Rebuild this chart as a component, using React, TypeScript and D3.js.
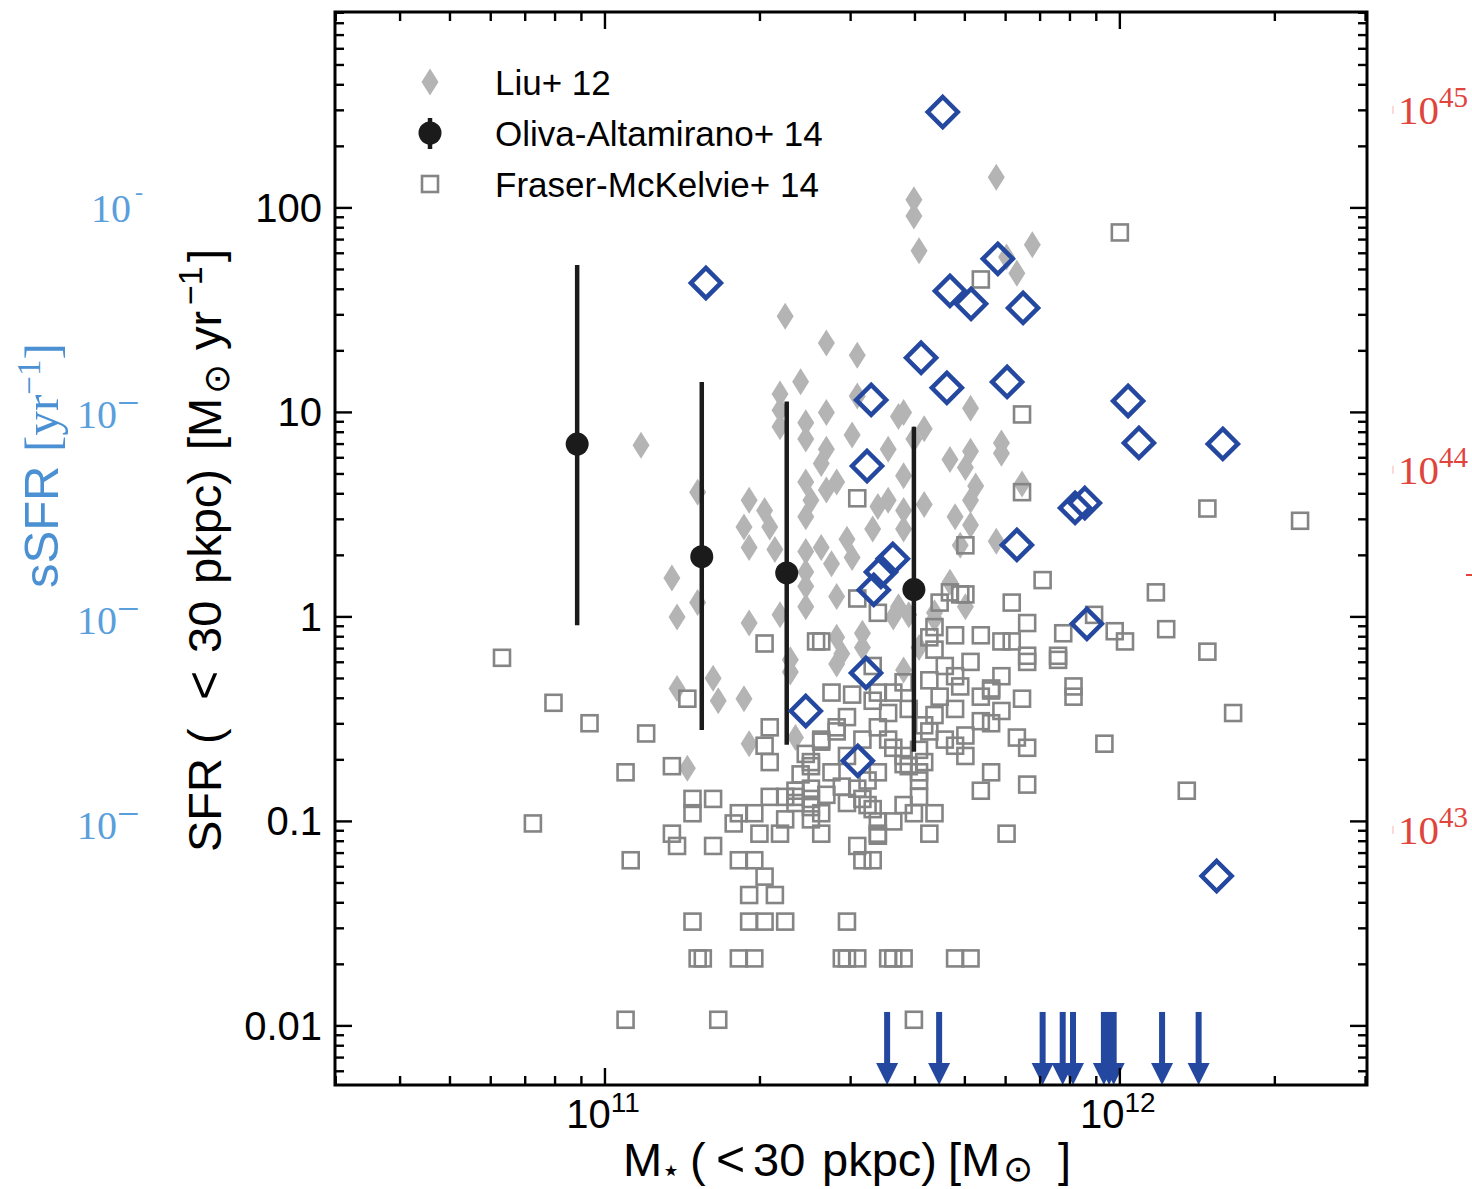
import React from "react";
import * as d3 from "d3";

// ---------- data (log10 M*/Msun, log10 SFR/(Msun/yr)) ----------
const liuPoints: [number, number][] = [
  [11.76, 2.15], [11.6, 2.04], [11.6, 1.96], [11.61, 1.79], [11.83, 1.82], [11.78, 1.76], [11.8, 1.68],
  [11.35, 1.47], [11.43, 1.34], [11.49, 1.28], [11.38, 1.15], [11.34, 1.09], [11.34, 1.01], [11.34, 0.93],
  [11.49, 1.08], [11.43, 1.0], [11.39, 0.95], [11.39, 0.87], [11.48, 0.89], [11.57, 0.98], [11.58, 1.0],
  [11.71, 1.02], [11.62, 0.92], [11.6, 0.87], [11.77, 0.85], [11.71, 0.81], [11.67, 0.77], [11.55, 0.82],
  [11.43, 0.82], [11.07, 0.84], [11.18, 0.61], [11.28, 0.57], [11.27, 0.44], [11.28, 0.34], [11.31, 0.52],
  [11.32, 0.44], [11.33, 0.33], [11.13, 0.19], [11.18, 0.07], [11.14, 0.0], [11.28, -0.03], [11.14, -0.35],
  [11.21, -0.3], [11.22, -0.41], [11.27, -0.4], [11.36, -0.27], [11.28, -0.62], [11.37, -0.59], [11.16, -0.74],
  [11.39, 0.66], [11.4, 0.57], [11.39, 0.49], [11.43, 0.62], [11.45, 0.66], [11.42, 0.75], [11.52, 0.43],
  [11.55, 0.57], [11.53, 0.54], [11.58, 0.69], [11.58, 0.52], [11.58, 0.43], [11.62, 0.55], [11.7, 0.73],
  [11.72, 0.64], [11.71, 0.57], [11.68, 0.49], [11.71, 0.45], [11.76, 0.37], [11.69, 0.35], [11.81, 0.65],
  [11.77, 0.8], [11.39, 0.32], [11.39, 0.22], [11.39, 0.15], [11.39, 0.05], [11.42, 0.34], [11.44, 0.26],
  [11.45, 0.1], [11.48, 0.29], [11.45, -0.1], [11.46, -0.18], [11.45, -0.23], [11.5, -0.08], [11.5, -0.15],
  [11.56, 0.0], [11.57, 0.05], [11.58, -0.26], [11.67, 0.17], [11.34, 0.01], [11.36, -0.21], [11.64, 0.02],
  [11.7, 0.05], [11.59, 0.01], [11.64, -0.01], [11.61, -0.15], [11.47, 0.38],
];

const fraserPoints: [number, number][] = [
  [12.0, 1.88], [11.73, 1.65], [11.81, 0.99], [11.81, 0.61], [11.49, 0.58], [12.17, 0.53], [12.35, 0.47], [11.7, 0.35],
  [11.85, 0.18], [12.07, 0.12], [11.79, 0.07], [11.82, -0.03], [11.89, -0.08], [11.95, 0.01], [11.99, -0.07], [12.01, -0.12],
  [12.09, -0.06], [12.17, -0.17], [11.88, -0.19], [11.88, -0.21], [11.82, -0.19], [11.82, -0.22], [11.91, -0.34], [11.91, -0.39],
  [12.22, -0.47], [11.97, -0.62], [12.13, -0.85], [11.82, -0.64], [11.8, -0.59], [11.75, -0.76], [11.73, -0.85], [11.82, -0.82],
  [11.78, -1.06], [11.64, -0.96], [11.6, -0.96], [11.63, -1.06], [11.68, -1.67], [11.71, -1.67], [11.58, -1.67], [11.6, -1.97],
  [11.77, -0.12], [11.79, -0.12], [11.73, -0.09], [11.68, -0.09], [11.69, 0.11], [11.7, 0.11], [11.65, 0.07], [11.81, -0.4],
  [11.77, -0.29], [11.75, -0.35], [11.77, -0.46], [11.73, -0.51], [11.7, -0.58], [11.68, -0.63], [11.7, -0.68], [11.62, -0.71],
  [11.61, -0.8], [11.58, -0.72], [11.63, -0.56], [11.64, -0.48], [11.49, 0.09], [11.53, 0.02], [11.67, 0.12], [11.31, -0.13],
  [11.41, -0.12], [11.42, -0.12], [11.16, -0.4], [11.08, -0.57], [11.44, -0.37], [11.48, -0.38], [11.32, -0.54], [11.31, -0.63],
  [11.32, -0.71], [11.52, -0.24], [11.53, -0.37], [11.58, -0.32], [10.8, -0.2], [10.9, -0.42], [10.97, -0.52], [11.04, -0.76],
  [11.13, -0.73], [10.86, -1.01], [11.05, -1.19], [11.17, -0.89], [11.21, -0.89], [11.17, -0.96], [11.13, -1.06], [11.14, -1.12],
  [11.21, -1.12], [11.26, -0.96], [11.25, -1.01], [11.29, -0.96], [11.3, -1.06], [11.34, -1.06], [11.32, -0.88], [11.35, -0.88],
  [11.37, -0.88], [11.42, -1.06], [11.26, -1.19], [11.29, -1.19], [11.31, -1.27], [11.28, -1.36], [11.33, -1.36], [11.17, -1.49],
  [11.28, -1.49], [11.31, -1.49], [11.35, -1.49], [11.47, -1.49], [11.18, -1.67], [11.19, -1.67], [11.26, -1.67], [11.29, -1.67],
  [11.46, -1.67], [11.47, -1.67], [11.49, -1.67], [11.55, -1.67], [11.56, -1.67], [11.04, -1.97], [11.22, -1.97], [11.49, -1.12],
  [11.5, -1.19], [11.52, -1.19], [11.53, -1.07], [11.53, -1.0], [11.56, -1.0], [11.53, -1.06], [11.58, -0.92], [11.71, -0.22],
  [11.75, -0.52], [11.73, -0.39], [11.69, -0.34], [11.65, -0.39], [11.64, -0.16], [11.63, -0.31], [11.63, -0.1], [11.68, -0.45],
  [11.66, -0.6], [11.61, -0.65], [11.62, -0.53], [11.59, -0.45], [11.55, -0.47], [11.53, -0.54], [11.55, -0.6], [11.58, -0.68],
  [11.61, -0.76], [11.5, -0.6], [11.47, -0.68], [11.42, -0.6], [11.4, -0.73], [11.44, -0.76], [11.46, -0.83], [11.51, -0.8],
  [11.53, -0.76], [11.37, -0.85], [11.4, -0.89], [11.42, -0.96], [11.37, -0.91], [11.47, -0.91], [11.5, -0.89], [11.52, -0.94],
  [11.45, -0.54], [11.47, -0.49], [11.52, -0.41], [11.56, -0.37], [11.56, -0.64], [11.59, -0.73], [11.61, -0.88], [11.39, -0.67],
  [11.35, -0.99], [11.4, -0.99], [11.64, -0.05], [11.66, -0.24], [11.68, -0.29], [11.75, -0.36], [11.42, -0.61], [11.45, -0.56],
  [11.4, -0.71], [11.38, -0.77], [11.4, -0.84], [11.43, -0.87], [11.49, -0.84], [11.51, -0.92], [11.4, -0.93],
];

const olivaLogM = [10.946, 11.188, 11.353, 11.6];
const olivaSFR = [7.0, 1.97, 1.64, 1.36];
const olivaSFRLow = [0.91, 0.28, 0.237, 0.219];
const olivaSFRHigh = [52.6, 14.1, 11.3, 8.5];

const blueLogM = [11.656, 11.196, 11.763, 11.67, 11.711, 11.812, 11.614, 11.517, 11.664, 11.781, 12.016, 12.037, 12.2,
  11.509, 11.913, 11.932, 11.8, 11.559, 11.536, 11.522, 11.936, 11.507, 11.39, 11.491, 12.188];
const blueLogSFR = [2.469, 1.633, 1.751, 1.594, 1.531, 1.511, 1.267, 1.061, 1.12, 1.149, 1.056, 0.851, 0.846,
  0.738, 0.533, 0.557, 0.352, 0.284, 0.22, 0.132, -0.034, -0.274, -0.46, -0.704, -1.267];

const limitLogM = [11.548, 11.649, 11.85, 11.889, 11.909, 11.969, 11.979, 11.988, 12.082, 12.153];
const limitSFR = 0.0117;

const massDomain = [2.99e10, 3.02e12];
const sfrDomain = [Math.pow(10, -2.289), Math.pow(10, 2.958)];
const massMajor = [1e11, 1e12];
const massMajorExp = ["11", "12"];
const sfrMajor = [0.01, 0.1, 1, 10, 100];
const sfrLabels = ["0.01", "0.1", "1", "10", "100"];
const ssfrLabelSFR = [100, 10, 1, 0.1];
const lumLabels = ["45", "44", "43"];
const lumLabelSFR = [301, 5.24, 0.0908];

const legendItems = ["Liu+ 12", "Oliva-Altamirano+ 14", "Fraser-McKelvie+ 14"];

// ---------- styles ----------
const SANS = "'Liberation Sans', Arial, Helvetica, sans-serif";
const SERIF = "'Liberation Serif', 'DejaVu Serif', serif";
const SYM = "'DejaVu Sans', sans-serif";
const GREY_FILL = "#b4b4b4";
const SQ_STROKE = "#858585";
const BLUE = "#24479f";
const SSFR_BLUE = "#5a9fdc";
const RED = "#e0443c";

const L = 335, R = 1367, T = 12, B = 1085;

export default function App() {
  const x = d3.scaleLog().domain(massDomain).range([L, R]);
  const y = d3.scaleLog().domain(sfrDomain).range([B, T]);

  const xMinor: number[] = [];
  [1e10, 1e11, 1e12].forEach((d) => {
    for (let k = 2; k <= 9; k++) {
      const v = d * k;
      if (v > massDomain[0] && v < massDomain[1]) xMinor.push(v);
    }
  });
  const yMinor: number[] = [];
  [1e-3, 1e-2, 1e-1, 1, 10, 100].forEach((d) => {
    for (let k = 2; k <= 9; k++) {
      const v = d * k;
      if (v > sfrDomain[0] && v < sfrDomain[1]) yMinor.push(v);
    }
  });

  const thinDiamond = "M0,-13.5L8.5,0L0,13.5L-8.5,0Z";
  const openDiamond = "M0,-15L15,0L0,15L-15,0Z";
  const MAJ = 17, MIN = 9;

  const toM = (l: number) => Math.pow(10, l);

  return (
    <svg width={1472} height={1189} style={{ position: "absolute", left: 0, top: 0, background: "#fff" }}>
      <rect x={0} y={0} width={1472} height={1189} fill="#fff" />

      {/* Liu+12 thin diamonds */}
      <g fill={GREY_FILL}>
        {liuPoints.map((p, i) => (
          <path key={i} d={thinDiamond} transform={`translate(${x(toM(p[0]))},${y(toM(p[1]))})`} />
        ))}
      </g>

      {/* Fraser-McKelvie+14 open squares */}
      <g fill="none" stroke={SQ_STROKE} strokeWidth={2.6}>
        {fraserPoints.map((p, i) => (
          <rect key={i} x={x(toM(p[0])) - 8} y={y(toM(p[1])) - 8} width={16} height={16} />
        ))}
      </g>

      {/* Oliva-Altamirano+14 error bars */}
      <g>
        {olivaLogM.map((m, i) => (
          <g key={i}>
            <line x1={x(toM(m))} x2={x(toM(m))} y1={y(olivaSFRHigh[i])} y2={y(olivaSFRLow[i])} stroke="#1b1b1b" strokeWidth={4.5} />
            <circle cx={x(toM(m))} cy={y(olivaSFR[i])} r={11.5} fill="#1b1b1b" />
          </g>
        ))}
      </g>

      {/* blue open diamonds */}
      <g fill="none" stroke={BLUE} strokeWidth={4.5}>
        {blueLogM.map((m, i) => (
          <path key={i} d={openDiamond} transform={`translate(${x(toM(m))},${y(toM(blueLogSFR[i]))})`} />
        ))}
      </g>

      {/* upper-limit arrows */}
      <g fill={BLUE} stroke="none">
        {limitLogM.map((m, i) => {
          const cx = x(toM(m));
          const top = y(limitSFR);
          const tip = y(sfrDomain[0]);
          return (
            <g key={i}>
              <rect x={cx - 3} y={top} width={6} height={tip - top - 20} />
              <path d={`M${cx - 11},${tip - 22}L${cx + 11},${tip - 22}L${cx},${tip}Z`} />
            </g>
          );
        })}
      </g>

      {/* frame */}
      <rect x={L} y={T} width={R - L} height={B - T} fill="none" stroke="#000" strokeWidth={3} />

      {/* ticks */}
      <g stroke="#000" strokeWidth={2.4}>
        {massMajor.map((v, i) => (
          <g key={"xm" + i}>
            <line x1={x(v)} x2={x(v)} y1={B} y2={B - MAJ} />
            <line x1={x(v)} x2={x(v)} y1={T} y2={T + MAJ} />
          </g>
        ))}
        {xMinor.map((v, i) => (
          <g key={"xn" + i}>
            <line x1={x(v)} x2={x(v)} y1={B} y2={B - MIN} />
            <line x1={x(v)} x2={x(v)} y1={T} y2={T + MIN} />
          </g>
        ))}
        {sfrMajor.map((v, i) => (
          <g key={"ym" + i}>
            <line x1={L} x2={L + MAJ} y1={y(v)} y2={y(v)} />
            <line x1={R} x2={R - MAJ} y1={y(v)} y2={y(v)} />
          </g>
        ))}
        {yMinor.map((v, i) => (
          <g key={"yn" + i}>
            <line x1={L} x2={L + MIN} y1={y(v)} y2={y(v)} />
            <line x1={R} x2={R - MIN} y1={y(v)} y2={y(v)} />
          </g>
        ))}
      </g>

      {/* y tick labels */}
      <g fontFamily={SANS} fontSize={40} fill="#000" textAnchor="end">
        {sfrMajor.map((v, i) => (
          <text key={i} x={322} y={y(v) + 14}>{sfrLabels[i]}</text>
        ))}
      </g>

      {/* x tick labels */}
      <g fontFamily={SANS} fontSize={40} fill="#000" textAnchor="middle">
        {massMajor.map((v, i) => (
          <text key={i} x={x(v) - 2} y={1128}>
            10<tspan dy={-16} fontSize={28}>{massMajorExp[i]}</tspan>
          </text>
        ))}
      </g>

      {/* x axis title */}
      <text y={1176} fontFamily={SANS} fontSize={47} fill="#000">
        <tspan x={623}>M</tspan>
        <tspan x={661} dy={5} fontSize={32} fontFamily={SYM}>⋆</tspan>
        <tspan x={690} dy={-5}>(</tspan>
        <tspan x={716} fontSize={50}>&lt;</tspan>
        <tspan x={753}>30</tspan>
        <tspan x={822}>pkpc)</tspan>
        <tspan x={948}>[M</tspan>
        <tspan x={1003} dy={5} fontSize={36} fontFamily={SYM}>⊙</tspan>
        <tspan x={1058} dy={-5}>]</tspan>
      </text>

      {/* y axis title (rotated) */}
      <text transform="translate(221,0) rotate(-90)" fontFamily={SANS} fontSize={47} fill="#000">
        <tspan x={-852}>SFR</tspan>
        <tspan x={-744}>(</tspan>
        <tspan x={-700} fontSize={50}>&lt;</tspan>
        <tspan x={-653}>30</tspan>
        <tspan x={-584}>pkpc)</tspan>
        <tspan x={-450}>[M</tspan>
        <tspan x={-394} dy={8} fontSize={36} fontFamily={SYM}>⊙</tspan>
        <tspan x={-350} dy={-8}>yr</tspan>
        <tspan x={-305} dy={-19} fontSize={34}>−1</tspan>
        <tspan x={-262} dy={19}>]</tspan>
      </text>

      {/* sSFR axis (left, blue) */}
      <text transform="translate(58,588) rotate(-90)" fontSize={49} fill="#4b90d2">
        <tspan fontFamily={SANS}>sSFR </tspan>
        <tspan fontFamily={SERIF}>[yr</tspan>
        <tspan fontFamily={SERIF} dy={-18} fontSize={33}>−1</tspan>
        <tspan fontFamily={SERIF} dy={18}>]</tspan>
      </text>
      <g fontFamily={SERIF} fill={SSFR_BLUE} fontSize={40}>
        {ssfrLabelSFR.map((v, i) => (
          <text key={i} x={i === 0 ? 91 : 77} y={y(v) + (i === 0 ? 14 : 15 + i)}>
            10
            {i === 0 ? (
              <tspan dx={4} dy={-22} fontSize={24}>-</tspan>
            ) : (
              <tspan dy={-12} fontSize={40}>−</tspan>
            )}
          </text>
        ))}
      </g>

      {/* luminosity axis (right, red) */}
      <g fontFamily={SERIF} fill={RED} fontSize={41}>
        {lumLabels.map((e, i) => (
          <text key={i} x={1398} y={y(lumLabelSFR[i]) + 14}>
            10<tspan dy={-17} fontSize={29}>{e}</tspan>
          </text>
        ))}
      </g>
      <g stroke="#f6d0cd" strokeWidth={1.5}>
        {lumLabelSFR.map((v, i) => (
          <line key={i} x1={1393} x2={1393} y1={y(v) - 4} y2={y(v) + 4} />
        ))}
      </g>
      <line x1={1466} x2={1472} y1={575} y2={575} stroke={RED} strokeWidth={2} />

      {/* legend */}
      <g>
        <path d={thinDiamond} transform="translate(430,82)" fill={GREY_FILL} />
        <line x1={430} x2={430} y1={118} y2={149} stroke="#1b1b1b" strokeWidth={4.5} />
        <circle cx={430} cy={133} r={11.5} fill="#1b1b1b" />
        <rect x={422} y={176} width={16} height={16} fill="none" stroke={SQ_STROKE} strokeWidth={2.6} />
        <g fontFamily={SANS} fontSize={35} fill="#000">
          {legendItems.map((t, i) => (
            <text key={i} x={495} y={95 + i * 51}>{t}</text>
          ))}
        </g>
      </g>
    </svg>
  );
}
